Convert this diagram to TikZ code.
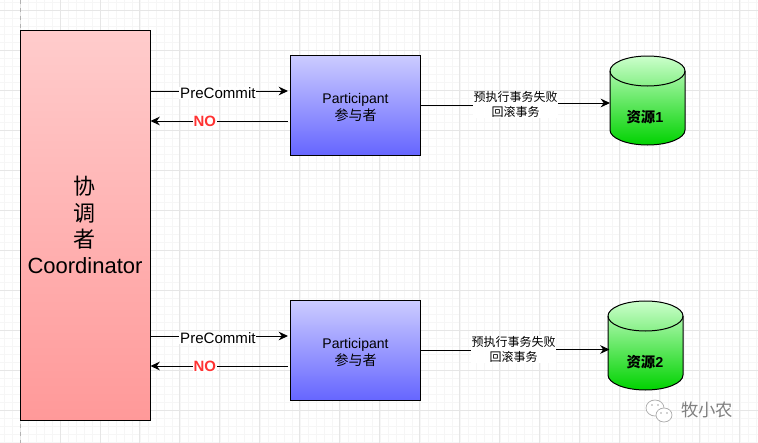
\documentclass[tikz,border=0pt]{standalone}
\usepackage{fontspec}
\setmainfont{Liberation Sans}
\newfontfamily\cjk{Noto Sans CJK SC}
\usetikzlibrary{arrows.meta,calc}
\definecolor{gridminor}{HTML}{F6F6F6}
\definecolor{gridmajor}{HTML}{E6E6E6}
\definecolor{norec}{HTML}{FF3333}
\definecolor{cylbottom}{HTML}{00D200}
\tikzset{
  px/.style={x=0.75pt,y=-0.75pt},
  redbox/.style={draw=black,line width=0.75pt,top color=red!20,bottom color=red!40,minimum width=97.5pt,minimum height=292.5pt,inner sep=0pt,align=center,font=\fontsize{16.5}{19.6}\selectfont},
  partbox/.style={draw=black,line width=0.75pt,top color=blue!20,bottom color=blue!60,minimum width=97.5pt,minimum height=75pt,inner sep=0pt,align=center,font=\fontsize{10.5}{12.8}\selectfont},
  conn/.style={line width=0.75pt,draw=black,-{Stealth[length=7pt,width=6.5pt]}},
  lab/.style={fill=white,inner sep=0.6pt,font=\fontsize{11.3}{13}\selectfont},
  nolab/.style={fill=white,inner sep=0.6pt,text=norec,font=\fontsize{11.2}{13}\selectfont\bfseries},
  actlab/.style={fill=white,inner sep=0.4pt,align=center,font=\fontsize{9}{11.2}\selectfont},
  reslab/.style={font=\fontsize{10.8}{13}\selectfont\bfseries,inner sep=0pt},
}
\newcommand{\drawcyl}[2]{% x, y top
  \shade[top color=green!20!white,bottom color=cylbottom,draw=black,line width=0.75pt]
    (#1,#2+15) arc[start angle=180,end angle=0,x radius=37.5,y radius=-15]
    -- (#1+75,#2+74) arc[start angle=0,end angle=180,x radius=37.5,y radius=15] -- cycle;
  \draw[black,line width=0.75pt] (#1,#2+15) arc[start angle=180,end angle=0,x radius=37.5,y radius=15];
}
\begin{document}
\begin{tikzpicture}[px]
\useasboundingbox (0,0) rectangle (758,443);
\fill[white] (0,0) rectangle (758,443);
% grid
\foreach \i in {0,...,95} {\draw[gridminor,line width=0.5pt] ({4+8*\i},0) -- ({4+8*\i},443);}
\foreach \i in {0,...,56} {\draw[gridminor,line width=0.5pt] (0,{2+8*\i}) -- (758,{2+8*\i});}
\foreach \i in {0,...,19} {\draw[gridmajor,line width=0.6pt] ({20+39.95*\i},0) -- ({20+39.95*\i},443);}
\foreach \i in {0,...,11} {\draw[gridmajor,line width=0.6pt] (0,{10+40*\i}) -- (758,{10+40*\i});}
\draw[gray!60,dashed,line width=0.6pt] (20,0) -- (20,443);
% boxes
\node[redbox] (coord) at (85,225) {{\cjk 协}\\{\cjk 调}\\{\cjk 者}\\Coordinator};
\node[partbox] (p1) at (355.5,105) {\rule{0pt}{11pt}Participant\\{\cjk 参与者}};
\node[partbox] (p2) at (355.5,350) {\rule{0pt}{11pt}Participant\\{\cjk 参与者}};
\drawcyl{610}{56}
\drawcyl{608}{301}
\node[reslab] (r1) at (645,117) {{\cjk 资源}1};
\node[reslab] (r2) at (645,362) {{\cjk 资源}2};
\coordinate (t1) at (610,103);
\coordinate (t2) at (609.5,349.5);
% upper pair
\draw[conn] (coord.east |- 0,91) -- node[lab,pos=0.49,yshift=-1.5pt]{PreCommit} (288,91);
\draw[conn] (288,121) -- node[nolab,pos=0.605]{NO} (coord.east |- 0,121);
\draw[conn] (coord.east |- 0,336) -- node[lab,pos=0.49,yshift=-1.5pt]{PreCommit} (288,336);
\draw[conn] (288,366) -- node[nolab,pos=0.605]{NO} (coord.east |- 0,366);
% to resources
\draw[conn] (p1.east) -- (515,105) -- (515,103) -- (t1);
\node[actlab] (a1) at (515.5,104.5) {{\cjk 预执行事务失败}\\{\cjk 回滚事务}};
\draw[conn] (p2.east) -- (513,350) -- (513,349.5) -- (t2);
\node[actlab] (a2) at (513.5,349.5) {{\cjk 预执行事务失败}\\{\cjk 回滚事务}};
% watermark
\begin{scope}[draw=gray!70,fill=white,line width=0.5pt]
\filldraw (655,408) ellipse (9 and 8);
\filldraw (664,415) ellipse (8 and 7);
\fill[gray!70] (652,405) circle (0.9) (658,405) circle (0.9) (661,413) circle (0.8) (667,413) circle (0.8);
\end{scope}
\node[text=gray,inner sep=0pt,font=\fontsize{13}{15}\selectfont] (wm) at (707,410) {\cjk 牧小农};
\end{tikzpicture}
\end{document}
